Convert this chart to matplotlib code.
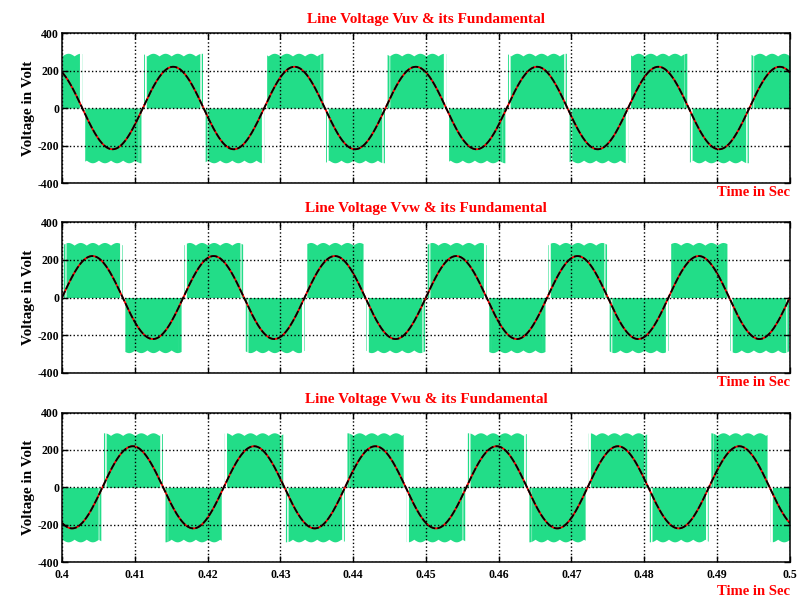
import numpy as np
import matplotlib
matplotlib.use('Agg')
import matplotlib.pyplot as plt

# Datos
titles = ['Line Voltage Vuv & its Fundamental',
          'Line Voltage Vvw & its Fundamental',
          'Line Voltage Vwu & its Fundamental']
phase_deg = [120, 0, -120]      # fase de la fundamental en t = 0.4 s
f0 = 60                          # Hz
v_fund = 220                     # pico de la fundamental [V]
v_dc_top = 292                   # pico del bus de cd [V]
v_ripple = 14                    # rizo del bus [V]
f_ripple = 600                   # Hz
f_carrier = 2000                 # Hz
m_index = 4.0
xticks = [0.4, 0.41, 0.42, 0.43, 0.44, 0.45, 0.46, 0.47, 0.48, 0.49, 0.5]
xlabels = ['0.4', '0.41', '0.42', '0.43', '0.44', '0.45', '0.46', '0.47', '0.48', '0.49', '0.5']
yticks = [-400, -200, 0, 200, 400]

t0, tend, dt = 0.4, 0.5, 2e-6
t = np.arange(t0, tend + dt, dt)
tr = t - t0

green = '#22DD88'
serif = ['Liberation Serif', 'DejaVu Serif']

fig = plt.figure(figsize=(7.98, 6.06), dpi=100)
rects = [[0.0777, 0.698, 0.912, 0.2475],
         [0.0777, 0.3845, 0.912, 0.249],
         [0.0777, 0.0726, 0.912, 0.2465]]

vdc = v_dc_top - v_ripple + v_ripple*np.abs(np.sin(np.pi*f_ripple*tr))
tri = 2*np.abs((tr*f_carrier) % 1 - 0.5)

for i, r in enumerate(rects):
    ax = fig.add_axes(r)
    th = 2*np.pi*f0*tr + np.deg2rad(phase_deg[i])
    s = np.sin(th)
    pulse = (m_index*np.abs(s) >= tri).astype(float)
    v = np.sign(s)*vdc*pulse
    vf = v_fund*s
    ax.fill_between(t, 0, v, step='post', color=green, lw=0)
    ax.plot(t, vf, '-', color='red', lw=1.3)
    ax.plot(t, vf, '--', color='black', lw=1.3, dashes=(4, 1.2))
    ax.set_xlim(t0, tend)
    ax.set_ylim(-400, 400)
    ax.set_xticks(xticks)
    ax.set_yticks(yticks)
    ax.set_yticklabels([str(y) for y in yticks], fontsize=8.5, fontweight='bold', family=serif)
    if i == 2:
        ax.set_xticklabels(xlabels, fontsize=8.5, fontweight='bold', family=serif)
    else:
        ax.set_xticklabels([])
    ax.tick_params(axis='y', direction='in', length=4, width=1, right=True, pad=2)
    ax.tick_params(axis='x', direction='in', length=4, width=1, top=True, pad=5)
    ax.grid(True, linestyle=':', color='black', lw=1)
    ax.set_axisbelow(False)
    for sp in ax.spines.values():
        sp.set_linewidth(1.1)
    ax.set_title(titles[i], color='red', fontsize=11, fontweight='bold', family=serif, pad=7)
    ax.set_ylabel('Voltage in Volt', fontsize=11, fontweight='bold', family=serif, labelpad=2)
    yoff = -0.2 if i == 2 else -0.065
    ax.text(1.0, yoff, 'Time in Sec', transform=ax.transAxes, ha='right', va='center',
            color='red', fontsize=10.5, fontweight='bold', family=serif)

fig.savefig('out.png', dpi=100)
